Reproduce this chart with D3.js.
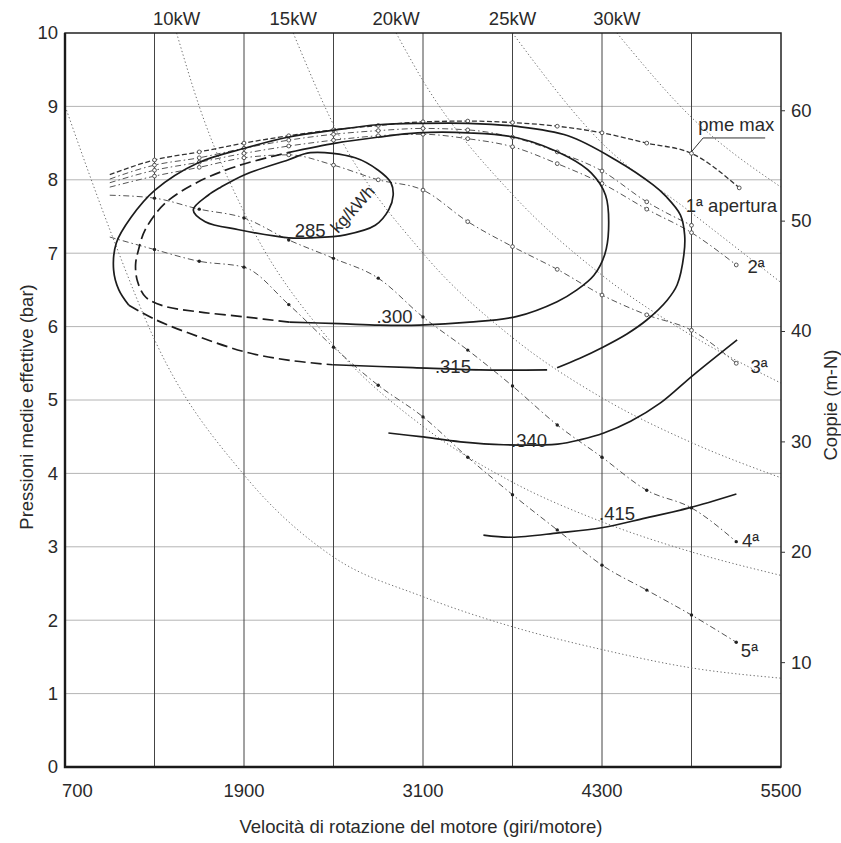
<!DOCTYPE html>
<html>
<head>
<meta charset="utf-8">
<script src="https://cdn.jsdelivr.net/npm/d3@7"></script>
<style>
  body { margin: 0; background: #fff; }
  text { font-family: "Liberation Sans", Arial, sans-serif; fill: #2a2a2a; }
</style>
</head>
<body>
<div id="chart"></div>
<script>
// axes
const xTicks = [700, 1900, 3100, 4300, 5500];
const xGrid = [1300, 1900, 2500, 3100, 3700, 4300, 4900];
const yTicks = [0, 1, 2, 3, 4, 5, 6, 7, 8, 9, 10];
const torqueTicks = [10, 20, 30, 40, 50, 60];

// constant power curves [rpm, bar]
const powerNames = ["", "10kW", "15kW", "20kW", "25kW", "30kW"];
const power5 = [[710, 8.95], [1010, 7.27], [1310, 5.78], [1900, 3.98], [2500, 2.86], [3100, 2.32], [3700, 1.91], [4300, 1.6], [4900, 1.35], [5500, 1.21]];
const power10 = [[1448, 10], [1600, 9.0], [1900, 7.56], [2500, 5.75], [3100, 4.64], [3700, 3.88], [4300, 3.34], [4900, 2.93], [5500, 2.61]];
const power15 = [[2230, 10], [2500, 8.75], [3100, 7.0], [3700, 5.85], [4300, 5.03], [4900, 4.42], [5500, 3.94]];
const power20 = [[2920, 10], [3100, 9.35], [3700, 7.8], [4300, 6.7], [4900, 5.88], [5500, 5.23]];
const power25 = [[3700, 10], [4300, 8.5], [4900, 7.55], [5500, 6.6]];
const power30 = [[4400, 10], [4900, 8.85], [5500, 7.9]];

// full load and throttle lines [rpm, bar]
const gearNames = ["pme max", "1ª apertura", "2ª", "3ª", "4ª", "5ª"];
const pmeMax = [[1000, 8.07], [1300, 8.27], [1600, 8.38], [1900, 8.5], [2200, 8.6], [2500, 8.68], [2800, 8.74], [3100, 8.79], [3400, 8.8], [3700, 8.78], [4000, 8.73], [4300, 8.64], [4600, 8.5], [4900, 8.36], [5220, 7.89]];
const gear1 = [[1000, 8.01], [1300, 8.2], [1600, 8.3], [1900, 8.43], [2200, 8.54], [2500, 8.62], [2800, 8.67], [3100, 8.7], [3400, 8.68], [3700, 8.58], [4000, 8.38], [4300, 8.12], [4600, 7.7], [4900, 7.38]];
const gear2 = [[1000, 7.96], [1300, 8.13], [1600, 8.24], [1900, 8.36], [2200, 8.46], [2500, 8.54], [2800, 8.6], [3100, 8.62], [3400, 8.56], [3700, 8.45], [4000, 8.22], [4300, 7.95], [4600, 7.6], [4900, 7.28], [5200, 6.84]];
const gear3 = [[1000, 7.9], [1300, 8.05], [1600, 8.17], [1900, 8.3], [2200, 8.34], [2500, 8.2], [2800, 8.0], [3100, 7.86], [3400, 7.43], [3700, 7.09], [4000, 6.78], [4300, 6.43], [4600, 6.16], [4900, 5.95], [5200, 5.5]];
const gear4 = [[1000, 7.79], [1300, 7.75], [1600, 7.6], [1900, 7.48], [2200, 7.18], [2500, 6.93], [2800, 6.66], [3100, 6.13], [3400, 5.68], [3700, 5.19], [4000, 4.66], [4300, 4.22], [4600, 3.77], [4900, 3.53], [5200, 3.07]];
const gear5 = [[1000, 7.22], [1300, 7.05], [1600, 6.89], [1900, 6.81], [2200, 6.3], [2500, 5.72], [2800, 5.2], [3100, 4.77], [3400, 4.22], [3700, 3.71], [4000, 3.23], [4300, 2.75], [4600, 2.41], [4900, 2.07], [5200, 1.7]];

// specific consumption contours [rpm, bar]
const bsfcNames = ["285 kg/kWh", ".300", ".315", ".340", ".415"];
const bsfc285 = [[1560, 7.59], [1660, 7.79], [1745, 7.9], [1905, 8.07], [2195, 8.27], [2345, 8.37], [2645, 8.3], [2800, 8.13], [2885, 7.96], [2900, 7.79], [2870, 7.59], [2780, 7.38], [2580, 7.25], [2355, 7.21], [2200, 7.21], [1865, 7.32], [1640, 7.43]];
const bsfc300 = [[4344, 7.32], [4318, 6.98], [4246, 6.7], [4132, 6.5], [3999, 6.34], [3731, 6.14], [3412, 6.06], [3076, 6.02], [2808, 6.02], [2539, 6.04], [2204, 6.06], [1915, 6.13], [1599, 6.2], [1363, 6.28], [1242, 6.4], [1187, 6.61], [1173, 6.84], [1192, 7.04], [1238, 7.32], [1371, 7.68], [1591, 7.97], [1859, 8.19], [2194, 8.37], [2515, 8.5], [2796, 8.58], [3065, 8.64], [3401, 8.64], [3737, 8.57], [4073, 8.31], [4229, 8.09], [4324, 7.79]];
const bsfc315 = [[3999, 5.44], [4152, 5.57], [4306, 5.72], [4467, 5.9], [4600, 6.09], [4737, 6.36], [4804, 6.57], [4849, 6.98], [4854, 7.25], [4826, 7.52], [4731, 7.77], [4643, 7.93], [4392, 8.27], [4072, 8.6], [3716, 8.73], [3400, 8.77], [3098, 8.77], [2796, 8.75], [2515, 8.68], [2192, 8.58], [1904, 8.43], [1590, 8.23], [1303, 7.86], [1143, 7.49], [1044, 7.14], [1026, 6.77], [1061, 6.5], [1128, 6.29], [1311, 6.09], [1600, 5.86], [1917, 5.65], [2206, 5.54], [2495, 5.48], [3032, 5.44], [3482, 5.41], [3932, 5.41]];
const bsfc340 = [[2868, 4.55], [3083, 4.5], [3352, 4.43], [3641, 4.39], [4003, 4.4], [4158, 4.46], [4312, 4.55], [4492, 4.71], [4692, 4.96], [4912, 5.34], [5206, 5.82]];
const bsfc415 = [[3505, 3.16], [3693, 3.13], [4009, 3.19], [4297, 3.26], [4589, 3.39], [4884, 3.53], [5201, 3.72]];

let width = 841,
    height = 843,
    margin = ({ top: 33, right: 60, bottom: 76, left: 65 }),
    fontSize = 18.5;

const svg = d3.select("#chart")
  .append("svg")
  .attr("width", width)
  .attr("height", height);

svg.append("rect").attr("width", width).attr("height", height).attr("fill", "#fff");

let x = d3.scaleLinear()
  .domain([700, 5500])
  .range([margin.left, width - margin.right]);

let y = d3.scaleLinear()
  .domain([0, 10])
  .range([height - margin.bottom, margin.top]);

let yTorque = d3.scaleLinear()
  .domain([0.5, 67])
  .range([height - margin.bottom, margin.top]);

svg.append("clipPath").attr("id", "plot")
  .append("rect")
  .attr("x", x(700)).attr("y", y(10))
  .attr("width", x(5500) - x(700)).attr("height", y(0) - y(10));

// grid
svg.append("g").selectAll("line").data(yTicks.slice(1, -1)).join("line")
  .attr("x1", x(700)).attr("x2", x(5500))
  .attr("y1", d => y(d)).attr("y2", d => y(d))
  .attr("stroke", "#b4b4b4").attr("stroke-width", 1);

svg.append("g").selectAll("line").data(xGrid).join("line")
  .attr("x1", d => x(d)).attr("x2", d => x(d))
  .attr("y1", y(0)).attr("y2", y(10))
  .attr("stroke", "#444").attr("stroke-width", 1);

let plot = svg.append("g").attr("clip-path", "url(#plot)");

let smooth = d3.line()
  .x(d => x(d[0]))
  .y(d => y(d[1]))
  .curve(d3.curveMonotoneX);

// constant power curves
let powerCurves = [power5, power10, power15, power20, power25, power30];
plot.selectAll(".power").data(powerCurves).join("path")
  .attr("class", "power")
  .attr("d", smooth)
  .attr("fill", "none")
  .attr("stroke", "#6e6e6e")
  .attr("stroke-width", 1)
  .attr("stroke-dasharray", "1.3,2.4");

powerCurves.forEach((c, i) => {
  if (!powerNames[i]) return;
  svg.append("text")
    .text(powerNames[i])
    .attr("x", x(c[0][0]))
    .attr("y", margin.top - 8)
    .attr("text-anchor", "middle")
    .attr("font-size", fontSize);
});

// throttle lines
let gears = [pmeMax, gear1, gear2, gear3, gear4, gear5];
gears.forEach((g, i) => {
  plot.append("path")
    .datum(g)
    .attr("d", smooth)
    .attr("fill", "none")
    .attr("stroke", i === 0 ? "#333" : "#555")
    .attr("stroke-width", i === 0 ? 1.3 : 1)
    .attr("stroke-dasharray", i === 0 ? "5,2.5" : "6,3,1.5,3");

  let filled = i >= 4;
  plot.append("g").selectAll("circle").data(g.slice(1)).join("circle")
    .attr("cx", d => x(d[0]))
    .attr("cy", d => y(d[1]))
    .attr("r", filled ? 1.7 : 1.9)
    .attr("fill", filled ? "#222" : "#fff")
    .attr("stroke", "#444")
    .attr("stroke-width", filled ? 0 : 0.9);
});

// bsfc contours
let catmull = d3.line()
  .x(d => x(d[0]))
  .y(d => y(d[1]))
  .curve(d3.curveCatmullRom.alpha(0.5));

function contour(points, dashed) {
  plot.append("path")
    .datum(points)
    .attr("d", catmull)
    .attr("fill", "none")
    .attr("stroke", "#1c1c1c")
    .attr("stroke-width", 1.7)
    .attr("stroke-dasharray", dashed ? "11,5" : null);
}

plot.append("path")
  .datum(bsfc285)
  .attr("d", d3.line().x(d => x(d[0])).y(d => y(d[1])).curve(d3.curveCatmullRomClosed.alpha(0.5)))
  .attr("fill", "none")
  .attr("stroke", "#1c1c1c")
  .attr("stroke-width", 1.7);

contour(bsfc300.slice(22).concat(bsfc300.slice(0, 11)), false);
contour(bsfc300.slice(10, 23), true);
contour(bsfc315.slice(0, 28), false);
contour(bsfc315.slice(27, 33), true);
contour(bsfc315.slice(32), false);
contour(bsfc340, false);
contour(bsfc415, false);

// contour labels
let cLabels = [
  { text: bsfcNames[1], at: [2788, 6.05] },
  { text: bsfcNames[2], at: [3180, 5.37] },
  { text: bsfcNames[3], at: [3690, 4.36] },
  { text: bsfcNames[4], at: [4280, 3.37] }
];
for (let l of cLabels) {
  svg.append("text")
    .text(l.text)
    .attr("x", x(l.at[0]))
    .attr("y", y(l.at[1]))
    .attr("font-size", fontSize);
}

let [num285, unit285] = bsfcNames[0].split(" ");
svg.append("text")
  .text(num285)
  .attr("x", x(2240)).attr("y", y(7.22))
  .attr("font-size", fontSize);
svg.append("text")
  .text(unit285)
  .attr("transform", `translate(${x(2530)},${y(7.26)}) rotate(-48)`)
  .attr("font-size", 17);

// throttle labels
let gLabels = [
  { text: gearNames[0], at: [4945, 8.66] },
  { text: gearNames[1], at: [4862, 7.56] },
  { text: gearNames[2], at: [5276, 6.73] },
  { text: gearNames[3], at: [5295, 5.37] },
  { text: gearNames[4], at: [5238, 3.0] },
  { text: gearNames[5], at: [5231, 1.5] }
];
for (let l of gLabels) {
  svg.append("text")
    .text(l.text)
    .attr("x", x(l.at[0]))
    .attr("y", y(l.at[1]))
    .attr("font-size", fontSize);
}

// leader for pme max
svg.append("path")
  .datum([[4899, 8.38], [4978, 8.57], [5394, 8.57]])
  .attr("d", d3.line().x(d => x(d[0])).y(d => y(d[1])))
  .attr("fill", "none")
  .attr("stroke", "#333")
  .attr("stroke-width", 1);

// frame
svg.append("rect")
  .attr("x", x(700)).attr("y", y(10))
  .attr("width", x(5500) - x(700)).attr("height", y(0) - y(10))
  .attr("fill", "none").attr("stroke", "#222").attr("stroke-width", 1.5);

svg.append("path")
  .attr("d", `M${x(700)},${y(10)}V${y(0)}H${x(5500)}`)
  .attr("fill", "none").attr("stroke", "#1a1a1a").attr("stroke-width", 2.4);

// left axis labels
svg.append("g").selectAll("text").data(yTicks).join("text")
  .text(d => d)
  .attr("x", margin.left - 7)
  .attr("y", d => y(d))
  .attr("dy", "0.35em")
  .attr("text-anchor", "end")
  .attr("font-size", fontSize);

// right axis
svg.append("g")
  .attr("transform", `translate(${width - margin.right},0)`)
  .call(d3.axisRight(yTorque).tickValues(torqueTicks).tickSize(4).tickPadding(6))
  .call(g => g.select(".domain").remove())
  .call(g => g.selectAll("line").attr("stroke", "#333"))
  .call(g => g.selectAll("text")
    .attr("font-size", fontSize)
    .attr("font-family", "Liberation Sans, Arial, sans-serif")
    .attr("fill", "#2a2a2a"));

// bottom labels
svg.append("g").selectAll("text").data(xTicks).join("text")
  .text(d => d)
  .attr("x", (d, i) => i === 0 ? x(d) - 3 : x(d))
  .attr("y", height - margin.bottom + 30)
  .attr("text-anchor", (d, i) => i === 0 ? "start" : "middle")
  .attr("font-size", fontSize);

// titles
svg.append("text")
  .text("Velocità di rotazione del motore (giri/motore)")
  .attr("x", 421)
  .attr("y", height - 10)
  .attr("text-anchor", "middle")
  .attr("font-size", fontSize);

svg.append("text")
  .text("Pressioni medie effettive (bar)")
  .attr("transform", `translate(33,${(y(0) + y(10)) / 2 + 7}) rotate(-90)`)
  .attr("text-anchor", "middle")
  .attr("font-size", fontSize);

svg.append("text")
  .text("Coppie (m-N)")
  .attr("transform", `translate(837,${(y(0) + y(10)) / 2 + 5}) rotate(-90)`)
  .attr("text-anchor", "middle")
  .attr("font-size", fontSize);
</script>
</body>
</html>
